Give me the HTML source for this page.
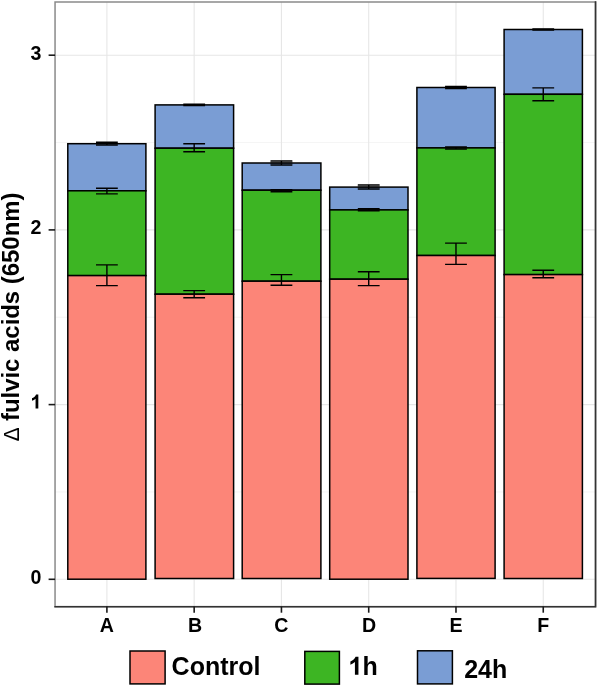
<!DOCTYPE html>
<html><head><meta charset="utf-8"><title>chart</title>
<style>
html,body{margin:0;padding:0;background:#fff;}
body{width:598px;height:687px;overflow:hidden;font-family:"Liberation Sans",sans-serif;}
svg{display:block;will-change:transform;}
text{font-family:"Liberation Sans",sans-serif;font-weight:bold;fill:#000;}
</style></head><body>
<svg width="598" height="687" viewBox="0 0 598 687">
<rect x="0" y="0" width="598" height="687" fill="#ffffff"/>
<g stroke="#ededed" stroke-width="0.6" fill="none">
<line x1="55.05" x2="595.6" y1="491.95" y2="491.95"/>
<line x1="55.05" x2="595.6" y1="317.25" y2="317.25"/>
<line x1="55.05" x2="595.6" y1="142.55" y2="142.55"/>
</g>
<g stroke="#e6e6e6" stroke-width="1.1" fill="none">
<line x1="55.05" x2="595.6" y1="579.30" y2="579.30"/>
<line x1="55.05" x2="595.6" y1="404.60" y2="404.60"/>
<line x1="55.05" x2="595.6" y1="229.90" y2="229.90"/>
<line x1="55.05" x2="595.6" y1="55.20" y2="55.20"/>
<line x1="106.90" x2="106.90" y1="2.0" y2="606.6"/>
<line x1="194.17" x2="194.17" y1="2.0" y2="606.6"/>
<line x1="281.44" x2="281.44" y1="2.0" y2="606.6"/>
<line x1="368.71" x2="368.71" y1="2.0" y2="606.6"/>
<line x1="455.98" x2="455.98" y1="2.0" y2="606.6"/>
<line x1="543.25" x2="543.25" y1="2.0" y2="606.6"/>
</g>
<g stroke="#000" stroke-width="1.5" stroke-linejoin="miter">
<rect x="67.80" y="143.7" width="78.10" height="47.10" fill="#7A9DD4"/>
<rect x="67.80" y="190.8" width="78.10" height="84.80" fill="#3DB523"/>
<rect x="67.80" y="275.6" width="78.10" height="303.60" fill="#FC8578"/>
<rect x="155.10" y="104.9" width="78.50" height="43.30" fill="#7A9DD4"/>
<rect x="155.10" y="148.2" width="78.50" height="146.00" fill="#3DB523"/>
<rect x="155.10" y="294.2" width="78.50" height="284.30" fill="#FC8578"/>
<rect x="242.20" y="163.0" width="78.70" height="27.20" fill="#7A9DD4"/>
<rect x="242.20" y="190.2" width="78.70" height="91.00" fill="#3DB523"/>
<rect x="242.20" y="281.2" width="78.70" height="297.30" fill="#FC8578"/>
<rect x="329.70" y="187.1" width="78.30" height="22.80" fill="#7A9DD4"/>
<rect x="329.70" y="209.9" width="78.30" height="69.30" fill="#3DB523"/>
<rect x="329.70" y="279.2" width="78.30" height="300.00" fill="#FC8578"/>
<rect x="416.90" y="87.5" width="78.20" height="60.40" fill="#7A9DD4"/>
<rect x="416.90" y="147.9" width="78.20" height="107.60" fill="#3DB523"/>
<rect x="416.90" y="255.5" width="78.20" height="322.90" fill="#FC8578"/>
<rect x="504.10" y="29.5" width="78.30" height="64.80" fill="#7A9DD4"/>
<rect x="504.10" y="94.3" width="78.30" height="180.30" fill="#3DB523"/>
<rect x="504.10" y="274.6" width="78.30" height="303.90" fill="#FC8578"/>
</g>
<g stroke="#000" stroke-width="1.4" fill="none">
<path d="M96.00 142.3H117.80M96.00 145.0H117.80M106.90 142.3V145.0"/>
<path d="M96.00 188.2H117.80M96.00 193.9H117.80M106.90 188.2V193.9"/>
<path d="M96.00 264.9H117.80M96.00 285.6H117.80M106.90 264.9V285.6"/>
<path d="M183.27 104.2H205.07M183.27 105.6H205.07M194.17 104.2V105.6"/>
<path d="M183.27 143.8H205.07M183.27 151.8H205.07M194.17 143.8V151.8"/>
<path d="M183.27 290.6H205.07M183.27 297.8H205.07M194.17 290.6V297.8"/>
<rect x="270.54" y="160.9" width="21.80" height="4.20" fill="#000" fill-opacity="0.5" stroke="none"/>
<path d="M270.54 160.9H292.34M270.54 165.1H292.34M281.44 160.9V165.1"/>
<path d="M270.54 189.8H292.34M270.54 191.8H292.34M281.44 189.8V191.8"/>
<path d="M270.54 274.6H292.34M270.54 285.2H292.34M281.44 274.6V285.2"/>
<rect x="357.81" y="184.9" width="21.80" height="4.20" fill="#000" fill-opacity="0.5" stroke="none"/>
<path d="M357.81 184.9H379.61M357.81 189.1H379.61M368.71 184.9V189.1"/>
<path d="M357.81 208.6H379.61M357.81 210.8H379.61M368.71 208.6V210.8"/>
<path d="M357.81 271.8H379.61M357.81 285.6H379.61M368.71 271.8V285.6"/>
<path d="M445.08 86.5H466.88M445.08 88.6H466.88M455.98 86.5V88.6"/>
<path d="M445.08 146.9H466.88M445.08 149.0H466.88M455.98 146.9V149.0"/>
<path d="M445.08 243.1H466.88M445.08 264.4H466.88M455.98 243.1V264.4"/>
<path d="M532.35 28.9H554.15M532.35 30.05H554.15M543.25 28.9V30.05"/>
<path d="M532.35 87.9H554.15M532.35 100.7H554.15M543.25 87.9V100.7"/>
<path d="M532.35 270.2H554.15M532.35 277.8H554.15M543.25 270.2V277.8"/>
</g>
<rect x="55.05" y="2.0" width="540.55" height="604.60" fill="none" stroke="#8a8a8a" stroke-width="1.5"/>
<path d="M595.5 1.3V606.8000000000001H54.349999999999994" fill="none" stroke="#333333" stroke-width="1.6"/>
<g stroke="#1a1a1a" stroke-width="1.6">
<line x1="48.6" x2="55.05" y1="579.30" y2="579.30"/>
<line x1="48.6" x2="55.05" y1="404.60" y2="404.60"/>
<line x1="48.6" x2="55.05" y1="229.90" y2="229.90"/>
<line x1="48.6" x2="55.05" y1="55.20" y2="55.20"/>
<line x1="106.90" x2="106.90" y1="606.6" y2="612.7"/>
<line x1="194.17" x2="194.17" y1="606.6" y2="612.7"/>
<line x1="281.44" x2="281.44" y1="606.6" y2="612.7"/>
<line x1="368.71" x2="368.71" y1="606.6" y2="612.7"/>
<line x1="455.98" x2="455.98" y1="606.6" y2="612.7"/>
<line x1="543.25" x2="543.25" y1="606.6" y2="612.7"/>
</g>
<g font-size="19.6px">
<text x="41.5" y="583.60" text-anchor="end">0</text>
<text x="41.5" y="233.90" text-anchor="end">2</text>
<text x="41.5" y="60.10" text-anchor="end">3</text>
<path transform="translate(30.60 408.60) scale(0.009570)" d="M806 0H518V-1042Q360 -894 146 -823V-1084Q259 -1121 391 -1224Q523 -1328 572 -1466H806Z" fill="#000" stroke="none"/>
<text x="106.90" y="632.0" text-anchor="middle">A</text>
<text x="194.97" y="632.0" text-anchor="middle">B</text>
<text x="281.44" y="632.0" text-anchor="middle">C</text>
<text x="369.01" y="632.0" text-anchor="middle">D</text>
<text x="455.98" y="632.0" text-anchor="middle">E</text>
<text x="543.25" y="632.0" text-anchor="middle">F</text>
</g>
<text transform="translate(19.0 192.5) rotate(-90) scale(1.04 1)" font-size="23px" text-anchor="end">fulvic acids (650nm)</text>
<text transform="translate(19.3 441.3) rotate(-90) scale(0.93 1)" font-size="22.2px" font-weight="normal" style="font-weight:normal">Δ</text>
<g stroke="#000" stroke-width="1.5">
<rect x="130.0" y="651.0" width="35.1" height="32.9" fill="#FC8578"/>
<rect x="304.8" y="651.4" width="34.6" height="32.7" fill="#3DB523"/>
<rect x="417.5" y="650.8" width="34.9" height="33.1" fill="#7A9DD4"/>
</g>
<g font-size="25px">
<text x="171.6" y="675.0">Control</text>
<path transform="translate(348.60 674.70) scale(0.012207)" d="M806 0H518V-1042Q360 -894 146 -823V-1084Q259 -1121 391 -1224Q523 -1328 572 -1466H806Z" fill="#000" stroke="none"/>
<text x="362.50" y="674.7">h</text>
<text x="464.2" y="677.6">24h</text>
</g>
</svg>
</body></html>
